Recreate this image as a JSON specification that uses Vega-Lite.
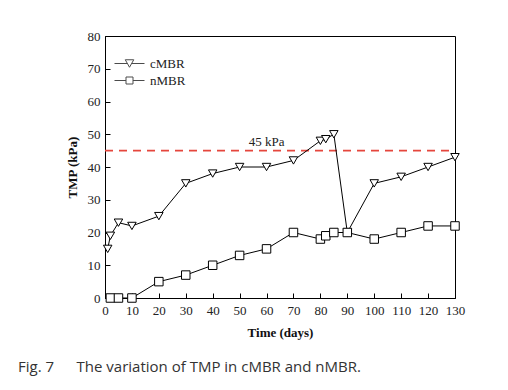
{
  "$schema": "https://vega.github.io/schema/vega-lite/v6.json",
  "autosize": "none",
  "width": 350,
  "height": 262,
  "padding": {"left": 105, "top": 36, "right": 53, "bottom": 92},
  "background": "white",
  "config": {
    "view": {"stroke": "black", "strokeWidth": 1},
    "font": "Liberation Serif",
    "axis": {
      "domainColor": "black",
      "tickColor": "black",
      "tickSize": -5,
      "labelFont": "Liberation Serif",
      "labelFontSize": 13,
      "labelColor": "#222",
      "titleFont": "Liberation Serif",
      "titleFontSize": 13,
      "titleFontWeight": "bold",
      "titleColor": "#111",
      "grid": false
    },
    "legend": {
      "title": null,
      "orient": "none",
      "padding": 0,
      "symbolSize": 100,
      "symbolStrokeWidth": 1,
      "labelFont": "Liberation Serif",
      "labelFontSize": 13,
      "labelColor": "#222",
      "labelOffset": 14
    }
  },
  "title": {
    "text": "Fig. 7\u2003\u2002The variation of TMP in cMBR and nMBR.",
    "orient": "bottom",
    "anchor": "start",
    "frame": "group",
    "dx": -87,
    "offset": 21,
    "font": "Open Sans",
    "fontSize": 15,
    "fontWeight": "normal",
    "color": "#333"
  },
  "data": {
    "values": [
      {"series": "cMBR", "day": 1, "tmp": 15},
      {"series": "cMBR", "day": 2, "tmp": 19},
      {"series": "cMBR", "day": 5, "tmp": 23},
      {"series": "cMBR", "day": 10, "tmp": 22},
      {"series": "cMBR", "day": 20, "tmp": 25},
      {"series": "cMBR", "day": 30, "tmp": 35},
      {"series": "cMBR", "day": 40, "tmp": 38},
      {"series": "cMBR", "day": 50, "tmp": 40},
      {"series": "cMBR", "day": 60, "tmp": 40},
      {"series": "cMBR", "day": 70, "tmp": 42},
      {"series": "cMBR", "day": 80, "tmp": 48},
      {"series": "cMBR", "day": 82, "tmp": 48.5},
      {"series": "cMBR", "day": 85, "tmp": 50},
      {"series": "cMBR", "day": 90, "tmp": 20},
      {"series": "cMBR", "day": 100, "tmp": 35},
      {"series": "cMBR", "day": 110, "tmp": 37},
      {"series": "cMBR", "day": 120, "tmp": 40},
      {"series": "cMBR", "day": 130, "tmp": 43},
      {"series": "nMBR", "day": 2, "tmp": 0},
      {"series": "nMBR", "day": 5, "tmp": 0},
      {"series": "nMBR", "day": 10, "tmp": 0},
      {"series": "nMBR", "day": 20, "tmp": 5},
      {"series": "nMBR", "day": 30, "tmp": 7},
      {"series": "nMBR", "day": 40, "tmp": 10},
      {"series": "nMBR", "day": 50, "tmp": 13},
      {"series": "nMBR", "day": 60, "tmp": 15},
      {"series": "nMBR", "day": 70, "tmp": 20},
      {"series": "nMBR", "day": 80, "tmp": 18},
      {"series": "nMBR", "day": 82, "tmp": 19},
      {"series": "nMBR", "day": 85, "tmp": 20},
      {"series": "nMBR", "day": 90, "tmp": 20},
      {"series": "nMBR", "day": 100, "tmp": 18},
      {"series": "nMBR", "day": 110, "tmp": 20},
      {"series": "nMBR", "day": 120, "tmp": 22},
      {"series": "nMBR", "day": 130, "tmp": 22}
    ]
  },
  "encoding": {
    "x": {
      "field": "day", "type": "quantitative",
      "scale": {"domain": [0, 130], "nice": false, "zero": false},
      "axis": {"values": [0,10,20,30,40,50,60,70,80,90,100,110,120,130], "title": "Time (days)", "labelPadding": 11, "titlePadding": 9, "labelFlush": false}
    },
    "y": {
      "field": "tmp", "type": "quantitative",
      "scale": {"domain": [0, 80], "nice": false},
      "axis": {"values": [0,10,20,30,40,50,60,70,80], "title": "TMP (kPa)", "labelPadding": 10, "titlePadding": 8, "labelFlush": false}
    }
  },
  "layer": [
    {
      "data": {"values": [{"level": 45, "label": "45 kPa", "pos": 60}]},
      "mark": {"type": "rule", "color": "#e5463d", "strokeWidth": 1.6, "strokeDash": [8, 6]},
      "encoding": {"x": {"value": 0}, "x2": {"value": 350}, "y": {"field": "level", "type": "quantitative"}}
    },
    {
      "data": {"values": [{"level": 45, "label": "45 kPa", "pos": 60}]},
      "mark": {"type": "text", "font": "Liberation Serif", "fontSize": 13, "baseline": "bottom", "dy": -2, "color": "#222"},
      "encoding": {"x": {"field": "pos", "type": "quantitative"}, "y": {"field": "level", "type": "quantitative"}, "text": {"field": "label"}}
    },
    {
      "mark": {"type": "line", "color": "black", "strokeWidth": 1},
      "encoding": {"detail": {"field": "series"}}
    },
    {
      "mark": {"type": "point", "filled": true, "fill": "white", "stroke": "black", "strokeWidth": 1, "opacity": 1},
      "encoding": {
        "shape": {
          "field": "series", "type": "nominal",
          "scale": {"domain": ["cMBR", "nMBR"], "range": ["triangle-down", "square"]},
          "legend": null
        },
        "size": {"value": 72}
      }
    },
    {
      "transform": [{"filter": "datum.day < 0"}],
      "mark": {"type": "point", "filled": false, "strokeWidth": 1},
      "encoding": {
        "color": {
          "field": "series", "type": "nominal",
          "scale": {"domain": ["cMBR"], "range": ["black"]},
          "legend": {"legendX": 18, "legendY": 21, "symbolType": "M-3,0L-0.43,0M0.43,0L3,0M-0.85,-0.75L0.85,-0.75L0,0.75Z"}
        }
      }
    },
    {
      "transform": [{"filter": "datum.day < 0"}],
      "mark": {"type": "point", "filled": false, "strokeWidth": 1},
      "encoding": {
        "stroke": {
          "field": "series", "type": "nominal",
          "scale": {"domain": ["nMBR"], "range": ["black"]},
          "legend": {"legendX": 18, "legendY": 38, "symbolType": "M-3,0L-0.7,0M0.7,0L3,0M-0.7,-0.7L0.7,-0.7L0.7,0.7L-0.7,0.7Z"}
        }
      }
    }
  ],
  "resolve": {"scale": {"color": "independent", "stroke": "independent"}, "legend": {"color": "independent", "stroke": "independent"}}
}
